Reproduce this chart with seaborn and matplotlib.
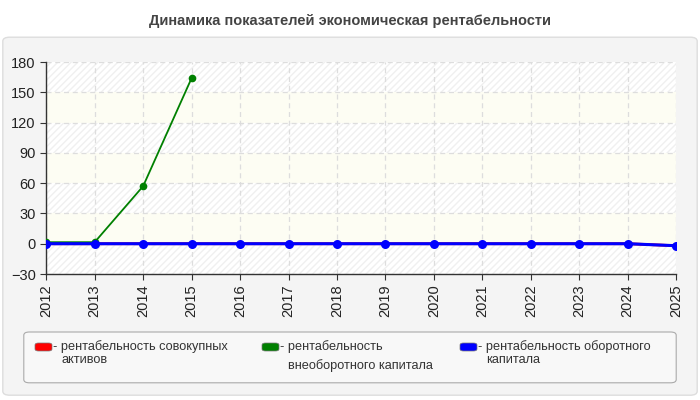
import numpy as np
import pandas as pd
import matplotlib
matplotlib.use("Agg")
import matplotlib.pyplot as plt
import seaborn as sns
from matplotlib.patches import FancyBboxPatch

years = list(range(2012, 2026))
roa = [0.0] * 13 + [-2.0]  # hidden under the blue series
nca = [1.5, 1.5, 57.0, 164.0] + [np.nan] * 10
wc = [0.0] * 13 + [-2.0]

series_names = [
    ("рентабельность совокупных", "активов"),
    ("рентабельность", "внеоборотного капитала"),
    ("рентабельность оборотного", "капитала"),
]
series_colors = ["#ff0000", "#008000", "#0000ff"]
y_ticks = [-30, 0, 30, 60, 90, 120, 150, 180]

sns.set_style("white")
plt.rcParams["font.family"] = ["Liberation Sans", "DejaVu Sans"]

df = pd.DataFrame({"year": years, "roa": roa, "nca": nca, "wc": wc})

W, H = 700, 400
fig = plt.figure(figsize=(7, 4), dpi=100)
fig.patch.set_facecolor("white")

# outer panel
panel = FancyBboxPatch((0.004, 0.012), 0.992, 0.895, boxstyle="round,pad=0,rounding_size=0.01",
                       transform=fig.transFigure, facecolor="#f4f4f4", edgecolor="#dddddd", lw=1,
                       zorder=-10)
fig.patches.append(panel)
fig.text(0.5, 0.948, "Динамика показателей экономическая рентабельности", ha="center", va="center",
         fontsize=10.5, fontweight="bold", color="#444444")

ax = fig.add_axes([0.066, 0.315, 0.900, 0.530])
ax.set_zorder(2)
ax.set_facecolor("white")

# alternating background bands
for i, lo in enumerate(y_ticks[:-1]):
    hi = y_ticks[i + 1]
    if i % 2 == 0:
        ax.axhspan(lo, hi, facecolor="white", edgecolor="#f0f0f0", hatch="/////", lw=0, zorder=0)
    else:
        ax.axhspan(lo, hi, facecolor="#fdfdf3", lw=0, zorder=0)

sns.lineplot(data=df, x="year", y="roa", color=series_colors[0], marker="o", markersize=5,
             markeredgewidth=0, lw=2, ax=ax, zorder=3)
sns.lineplot(data=df.dropna(subset=["nca"]), x="year", y="nca", color=series_colors[1], marker="o",
             markersize=5.5, markeredgewidth=0, lw=1.3, ax=ax, zorder=4)
sns.lineplot(data=df, x="year", y="wc", color=series_colors[2], marker="o", markersize=6.5,
             markeredgewidth=0, lw=2.2, ax=ax, zorder=5)

ax.set_xlim(2012, 2025)
ax.set_ylim(-30, 180)
ax.set_yticks(y_ticks)
ax.set_xticks(years)
ax.set_xticklabels([str(y) for y in years], rotation=90)
ax.tick_params(axis="both", labelsize=10.5, colors="#222222", length=4, direction="out")
ax.tick_params(axis="both", which="both", bottom=True, left=True, color="#333333")
ax.grid(True, color="#dddddd", linestyle=(0, (4, 3)), lw=0.9)
for g in ax.get_xgridlines() + ax.get_ygridlines():
    g.set_zorder(1)
ax.set_xlabel("")
ax.set_ylabel("")
for side in ["top", "right"]:
    ax.spines[side].set_visible(False)
for side in ["left", "bottom"]:
    ax.spines[side].set_color("#333333")
    ax.spines[side].set_linewidth(1)

# legend box
lbox = FancyBboxPatch((0.034, 0.043), 0.932, 0.127, boxstyle="round,pad=0,rounding_size=0.008",
                      transform=fig.transFigure, facecolor="#f8f8f8", edgecolor="#aaaaaa", lw=0.8,
                      zorder=-5)
fig.patches.append(lbox)
entry_x = [35, 262, 460]
second_gap = [13, 19, 13]
for (l1, l2), color, x0, gap in zip(series_names, series_colors, entry_x, second_gap):
    sw = FancyBboxPatch((x0 / W, 1 - 351 / H), 17 / W, 8 / H,
                        boxstyle="round,pad=0,rounding_size=0.005", transform=fig.transFigure,
                        facecolor=color, edgecolor="#777777", lw=0.5, zorder=-4)
    fig.patches.append(sw)
    fig.text((x0 + 18) / W, 1 - 347 / H, "- " + l1, ha="left", va="center", fontsize=9.2,
             color="#333333")
    fig.text((x0 + 26) / W, 1 - (347 + gap) / H, l2, ha="left", va="center", fontsize=9.2,
             color="#333333")

fig.savefig("out.png", dpi=100, facecolor="white")
